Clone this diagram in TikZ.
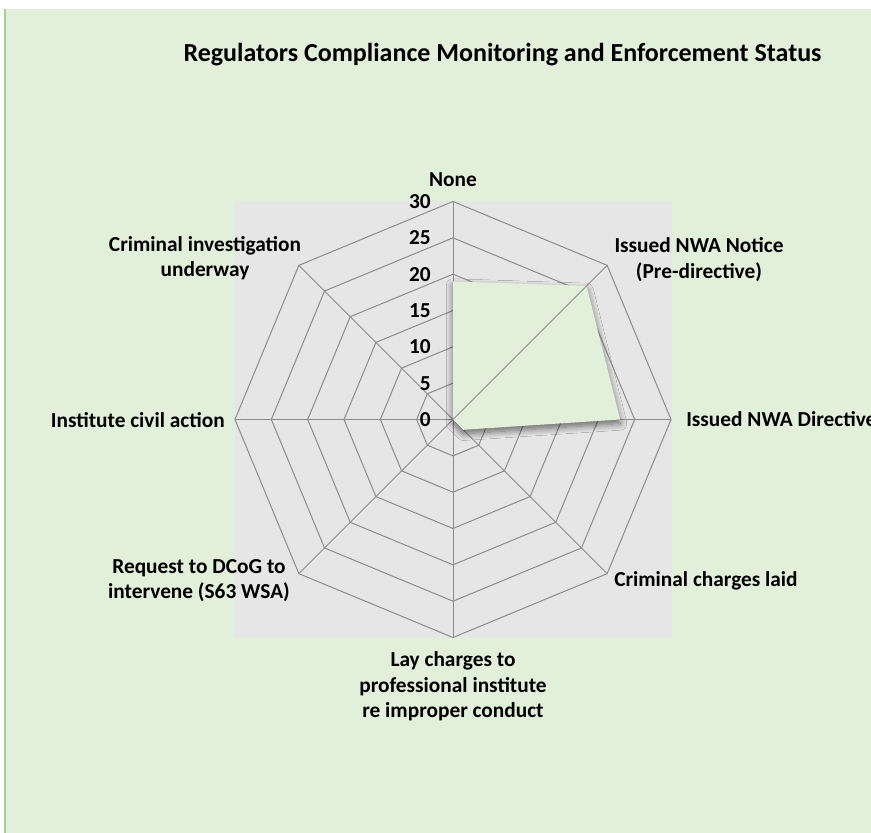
\documentclass[tikz,border=0pt]{standalone}
\usepackage{fontspec}
\setmainfont{Carlito}
\usetikzlibrary{shadows.blur}
\definecolor{bggreen}{HTML}{E2EFDA}
\definecolor{framegreen}{HTML}{A9D08E}
\definecolor{plotgrey}{HTML}{E7E6E6}
\definecolor{gridgrey}{HTML}{8C8C8C}
\tikzset{
  axislbl/.style={font=\fontsize{16}{19.1}\selectfont\bfseries, align=center, inner sep=0pt},
  ticklbl/.style={font=\fontsize{16}{19.1}\selectfont\bfseries, anchor=east, inner sep=0pt},
  gridline/.style={draw=gridgrey, line width=0.75pt},
}
\newcommand{\unitr}{7.267}
\begin{document}
\begin{tikzpicture}[x=0.75pt,y=-0.75pt]
\useasboundingbox (0,0) rectangle (871,832);
\fill[white] (0,0) rectangle (871,9);
\fill[bggreen] (5,9) rectangle (890,850);
\draw[framegreen, line width=1pt] (5,9) -- (5,850);
\fill[plotgrey] (235,201) rectangle (672,638);
\node[font=\fontsize{19.5}{23}\selectfont\bfseries, anchor=base] (title) at (502.5,61) {Regulators Compliance Monitoring and Enforcement Status};
\begin{scope}[shift={(453,419.5)}, yscale=-1]
\coordinate (c) at (0,0);
% rings and spokes
\foreach \r in {5,10,...,30}
  \draw[gridline] (90:{\r*\unitr}) \foreach \a in {135,180,...,450} { -- (\a:{\r*\unitr}) } -- cycle;
\foreach \a in {0,45,...,315}
  \draw[gridline] (c) -- (\a:{30*\unitr});
\foreach \v in {0,5,...,30}
  \node[ticklbl] (t\v) at (-22,{\v*\unitr}) {\v};
% data
\coordinate (vnone) at (90:{19*\unitr});
\coordinate (vnotice) at (45:{26*\unitr});
\coordinate (vdirective) at (0:{23*\unitr});
\coordinate (vcharges) at (-45:{2*\unitr});
\fill[bggreen, blur shadow={shadow xshift=0pt, shadow yshift=-3pt, shadow blur radius=5pt, shadow blur steps=10, shadow opacity=55}]
  (c) -- (vnone) -- (vnotice) -- (vdirective) -- (vcharges) -- cycle;
\draw[gridline] (c) -- (vnotice);
\end{scope}
% axis labels
\node[axislbl] (lnone) at (453,179.5) {None};
\node[axislbl] (lnotice) at (699,259.5) {Issued NWA Notice\\(Pre-directive)};
\node[axislbl, anchor=west] (ldirective) at (686,419.5) {Issued NWA Directive};
\node[axislbl, anchor=west] (lcharges) at (614,580.7) {Criminal charges laid};
\node[axislbl] (llay) at (453,686.5) {Lay charges to\\professional institute\\re improper conduct};
\node[axislbl] (lrequest) at (199,580.5) {Request to DCoG to\\intervene (S63 WSA)};
\node[axislbl, anchor=east] (lcivil) at (225,420) {Institute civil action};
\node[axislbl] (linvest) at (205,258) {Criminal investigation\\underway};
\end{tikzpicture}
\end{document}
